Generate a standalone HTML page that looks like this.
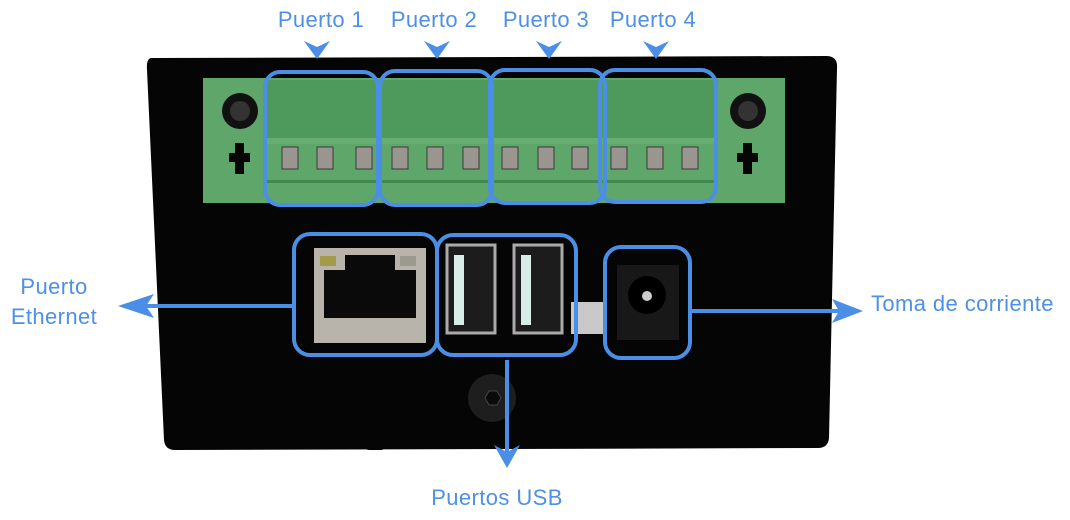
<!DOCTYPE html>
<html><head><meta charset="utf-8"><style>
html,body{margin:0;padding:0;background:#fff;width:1070px;height:520px;overflow:hidden}
text{font-family:"Liberation Sans",sans-serif;fill:#4d90e6;font-size:22px;letter-spacing:0.4px}
</style></head><body>
<svg width="1070" height="520" viewBox="0 0 1070 520" xmlns="http://www.w3.org/2000/svg">
<!-- body -->
<path d="M152 58 L826 56 Q838 56 837 68 L829 438 Q828 448 818 448 L175 450 Q165 450 164 440 L147 70 Q146 58 152 58 Z" fill="#050505"/>
<rect x="365" y="440" width="20" height="10" rx="4" fill="#050505"/>
<!-- green block -->
<rect x="203" y="78" width="582" height="125" fill="#5ea66a"/>
<rect x="265" y="80" width="453" height="60" fill="#4e9a5c"/>
<rect x="265" y="138" width="453" height="6" fill="#66ad72"/>
<rect x="265" y="180" width="453" height="3" fill="#3f8a4e"/>
<!-- screws -->
<circle cx="240" cy="111" r="18" fill="#111"/><circle cx="240" cy="111" r="10" fill="#333"/>
<circle cx="748" cy="111" r="18" fill="#111"/><circle cx="748" cy="111" r="10" fill="#333"/>
<path d="M235 143h9v10h6v9h-6v12h-9v-12h-6v-9h6z" fill="#050505"/>
<path d="M743 143h9v10h6v9h-6v12h-9v-12h-6v-9h6z" fill="#050505"/>
<!-- terminals -->
<g fill="#9a958e" stroke="#3a3a3a" stroke-width="1">
<rect x="282" y="147" width="16" height="22"/><rect x="317" y="147" width="16" height="22"/><rect x="356" y="147" width="16" height="22"/>
<rect x="392" y="147" width="16" height="22"/><rect x="427" y="147" width="16" height="22"/><rect x="463" y="147" width="16" height="22"/>
<rect x="502" y="147" width="16" height="22"/><rect x="538" y="147" width="16" height="22"/><rect x="572" y="147" width="16" height="22"/>
<rect x="611" y="147" width="16" height="22"/><rect x="647" y="147" width="16" height="22"/><rect x="682" y="147" width="16" height="22"/>
</g>
<!-- ethernet -->
<rect x="314" y="248" width="112" height="95" fill="#b8b4ab"/>
<rect x="324" y="270" width="92" height="48" fill="#0a0a0a"/>
<rect x="345" y="255" width="50" height="18" fill="#0a0a0a"/>
<rect x="320" y="256" width="16" height="10" fill="#a39a4a"/>
<rect x="400" y="256" width="16" height="10" fill="#9c9a90"/>
<!-- usb -->
<rect x="447" y="245" width="48" height="88" fill="#1c1c1c" stroke="#aaa" stroke-width="3"/>
<rect x="454" y="255" width="10" height="70" fill="#d8ece8"/>
<rect x="514" y="245" width="48" height="88" fill="#1c1c1c" stroke="#aaa" stroke-width="3"/>
<rect x="521" y="255" width="10" height="70" fill="#d8ece8"/>
<rect x="571" y="302" width="36" height="32" fill="#c9c9c9"/>
<!-- power jack -->
<rect x="617" y="265" width="62" height="75" fill="#181818"/>
<circle cx="647" cy="295" r="19" fill="#000"/>
<circle cx="647" cy="296" r="5" fill="#ccc"/>
<!-- bottom screw -->
<circle cx="492" cy="398" r="24" fill="#1e1e1e"/>
<polygon points="485,398 489,391 497,391 501,398 497,405 489,405" fill="#0a0a0a" stroke="#444"/>
<!-- highlight boxes -->
<g fill="none" stroke="#4a8ee6" stroke-width="4">
<rect x="265" y="72" width="113" height="133" rx="15"/>
<rect x="380" y="71" width="112" height="134" rx="15"/>
<rect x="490" y="70" width="115" height="133" rx="15"/>
<rect x="600" y="70" width="116" height="132" rx="15"/>
<rect x="294" y="234" width="143" height="121" rx="16"/>
<rect x="437" y="235" width="139" height="120" rx="16"/>
<rect x="605" y="247" width="85" height="111" rx="16"/>
</g>
<!-- arrows -->
<g stroke="#4a8ee6" stroke-width="4" fill="none">
<line x1="294" y1="306" x2="135" y2="306"/>
<line x1="690" y1="311" x2="845" y2="311"/>
<line x1="507" y1="360" x2="507" y2="452"/>
</g>
<g fill="#4a8ee6">
<path d="M118 306 L154 294 L146 306 L154 318 Z"/>
<path d="M863 311 L832 299 L839 311 L832 323 Z"/>
<path d="M507 468 L494 445 L507 452 L520 445 Z"/>
<path d="M304 41 L317 47 L330 41 L317 59 Z"/>
<path d="M424 41 L437 47 L450 41 L437 59 Z"/>
<path d="M536 41 L549 47 L562 41 L549 59 Z"/>
<path d="M643 41 L656 47 L669 41 L656 59 Z"/>
</g>
<!-- labels -->
<text x="321" y="27" text-anchor="middle">Puerto 1</text>
<text x="434" y="27" text-anchor="middle">Puerto 2</text>
<text x="546" y="27" text-anchor="middle">Puerto 3</text>
<text x="653" y="27" text-anchor="middle">Puerto 4</text>
<text x="54" y="294" text-anchor="middle">Puerto</text>
<text x="54" y="324" text-anchor="middle">Ethernet</text>
<text x="871" y="311">Toma de corriente</text>
<text x="497" y="505" text-anchor="middle">Puertos USB</text>
</svg>
</body></html>
